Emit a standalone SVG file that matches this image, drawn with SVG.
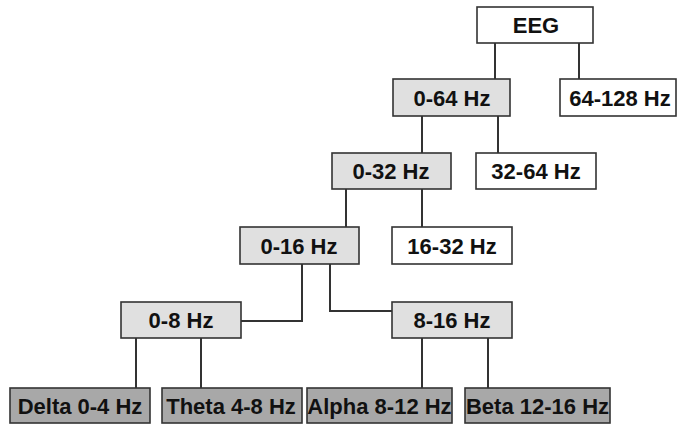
<svg xmlns="http://www.w3.org/2000/svg" width="677" height="425" viewBox="0 0 677 425">
<style>
  .box rect { stroke: #333; stroke-width: 1.6; }
  .w rect { fill: #ffffff; }
  .l rect { fill: #e0e0e0; }
  .d rect { fill: #a8a8a8; }
  text { font-family: "Liberation Sans", Arial, Helvetica, sans-serif; font-weight: bold; font-size: 22px; fill: #111; text-anchor: middle; }
  #connectors path { fill: none; stroke: #333; stroke-width: 2; }
</style>
<rect width="677" height="425" fill="#ffffff"/>
<g id="connectors">
  <path d="M495,43 V79"/>
  <path d="M579,43 V79"/>
  <path d="M422,116 V153"/>
  <path d="M498,116 V153"/>
  <path d="M346,189 V227"/>
  <path d="M422,189 V227"/>
  <path d="M302,264 V321 H241"/>
  <path d="M330,264 V311 H392"/>
  <path d="M136,338 V388"/>
  <path d="M201,338 V388"/>
  <path d="M422,338 V388"/>
  <path d="M488,338 V388"/>
</g>
<g id="eeg" class="box w"><rect x="477" y="7" width="116" height="36"/><text x="536" y="33">EEG</text></g>
<g id="n0-64" class="box l"><rect x="393" y="79" width="117" height="37"/><text x="452" y="105.5">0-64 Hz</text></g>
<g id="n64-128" class="box w"><rect x="560" y="79" width="116" height="37"/><text x="620" y="105.5">64-128 Hz</text></g>
<g id="n0-32" class="box l"><rect x="332" y="153" width="119" height="36"/><text x="391" y="179">0-32 Hz</text></g>
<g id="n32-64" class="box w"><rect x="476" y="153" width="120" height="36"/><text x="536" y="179">32-64 Hz</text></g>
<g id="n0-16" class="box l"><rect x="240" y="227" width="119" height="37"/><text x="299" y="253.5">0-16 Hz</text></g>
<g id="n16-32" class="box w"><rect x="392" y="227" width="120" height="37"/><text x="452" y="253.5">16-32 Hz</text></g>
<g id="n0-8" class="box l"><rect x="121" y="302" width="120" height="36"/><text x="181" y="328">0-8 Hz</text></g>
<g id="n8-16" class="box l"><rect x="392" y="302" width="120" height="36"/><text x="452" y="328">8-16 Hz</text></g>
<g id="delta" class="box d"><rect x="10" y="388" width="140" height="35"/><text x="80" y="414">Delta 0-4 Hz</text></g>
<g id="theta" class="box d"><rect x="162" y="388" width="140" height="35"/><text x="231" y="414">Theta 4-8 Hz</text></g>
<g id="alpha" class="box d"><rect x="307" y="388" width="145" height="35"/><text x="379.5" y="414">Alpha 8-12 Hz</text></g>
<g id="beta" class="box d"><rect x="465" y="388" width="145" height="35"/><text x="537.5" y="414">Beta 12-16 Hz</text></g>
</svg>
